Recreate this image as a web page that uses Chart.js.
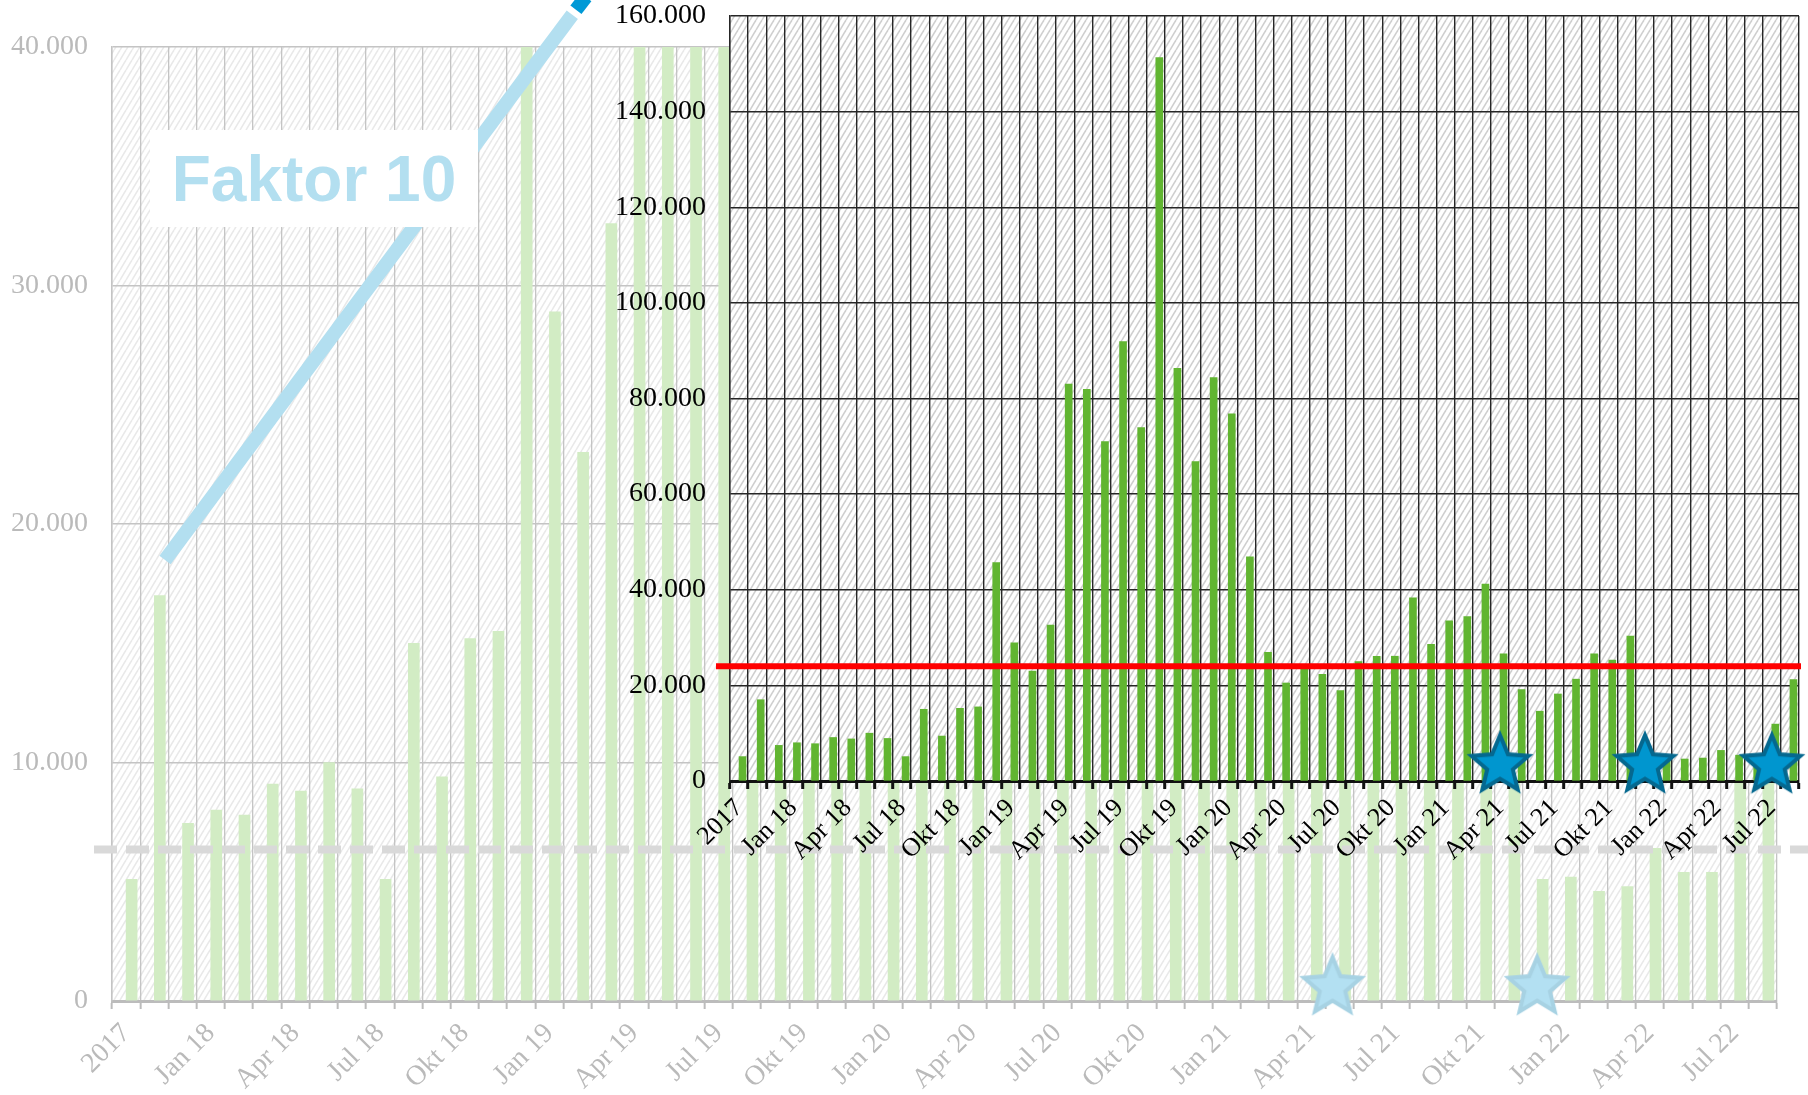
<!DOCTYPE html>
<html>
<head>
<meta charset="utf-8">
<script src="https://cdn.jsdelivr.net/npm/chart.js@4.4.0/dist/chart.umd.min.js"></script>
<style>
  html, body { margin: 0; padding: 0; background: #fff; }
  #wrap { position: relative; width: 1808px; height: 1095px; overflow: hidden; }
  .layer { position: absolute; left: 0; top: 0; width: 1808px; height: 1095px; }
  #faktor {
    position: absolute; left: 150px; top: 130px; width: 328px; height: 97px;
    background: #fff; color: #b3dff0;
    font: bold 64px "Liberation Sans", Arial, sans-serif;
    display: flex; align-items: center; justify-content: center;
  }
</style>
</head>
<body>
<div id="wrap">
  <div class="layer"><canvas id="bg"></canvas></div>
  <div id="faktor">Faktor 10</div>
  <div class="layer"><canvas id="inset"></canvas></div>
</div>
<script>
// months, Okt 2017 .. Aug 2022 (first one labelled "2017")
const months = [
  "2017", "Nov 17", "Dez 17",
  "Jan 18", "Feb 18", "Mär 18", "Apr 18", "Mai 18", "Jun 18", "Jul 18", "Aug 18", "Sep 18", "Okt 18", "Nov 18", "Dez 18",
  "Jan 19", "Feb 19", "Mär 19", "Apr 19", "Mai 19", "Jun 19", "Jul 19", "Aug 19", "Sep 19", "Okt 19", "Nov 19", "Dez 19",
  "Jan 20", "Feb 20", "Mär 20", "Apr 20", "Mai 20", "Jun 20", "Jul 20", "Aug 20", "Sep 20", "Okt 20", "Nov 20", "Dez 20",
  "Jan 21", "Feb 21", "Mär 21", "Apr 21", "Mai 21", "Jun 21", "Jul 21", "Aug 21", "Sep 21", "Okt 21", "Nov 21", "Dez 21",
  "Jan 22", "Feb 22", "Mär 22", "Apr 22", "Mai 22", "Jun 22", "Jul 22", "Aug 22"
];

// monthly values (same series in both charts)
const monthlyValues = [
  5100, 17000, 7450, 8000, 7800, 9100, 8800, 10000, 8900, 5100,
  15000, 9400, 15200, 15500, 45700, 28900, 23000, 32600, 83000, 81900,
  71000, 91900, 73900, 151300, 86300, 66800, 84400, 76800, 46900, 26900,
  20500, 23400, 22300, 18900, 25000, 26100, 26100, 38300, 28600, 33500,
  34400, 41200, 26600, 19100, 14600, 18200, 21300, 26600, 25300, 30300,
  5100, 5200, 4600, 4800, 6400, 5400, 5400, 11900, 21200
];

// star markers (x = month index)
const insetStarIdx = [42, 50, 57];
const insetStarVal = [3300, 3300, 3300];
const bgStarIdx = [42.75, 50];
const bgStarVal = [580, 580];

// reference levels
const redLevel = 24000;
const dashLevel = 6350;

// "Faktor 10" arrow, in background chart units
const faktorIdx = [1.38, 15.81];
const faktorVal = [18490, 41350];
const faktorTipIdx = [15.94, 16.29];
const faktorTipVal = [41560, 42100];

const serif = "'Liberation Serif', 'Times New Roman', serif";
const fmt = v => Number(v).toLocaleString('de-DE');

// --- helpers ---
const makeHatch = (bg, fg, w, h, lw) => {
  const c = document.createElement('canvas');
  c.width = w; c.height = h;
  const x = c.getContext('2d');
  x.fillStyle = bg; x.fillRect(0, 0, w, h);
  x.strokeStyle = fg; x.lineWidth = lw;
  for (let k = -1; k <= 1; k++) {
    x.beginPath(); x.moveTo(k * w, h); x.lineTo((k + 1) * w, 0); x.stroke();
  }
  return c;
};

const makeStar = (fill, stroke) => {
  const c = document.createElement('canvas');
  c.width = 72; c.height = 72;
  const x = c.getContext('2d');
  const R = 30, r = 13.5, cx = 36, cy = 36;
  x.beginPath();
  for (let i = 0; i < 10; i++) {
    const rad = i % 2 ? r : R;
    const a = -Math.PI / 2 + i * Math.PI / 5;
    x.lineTo(cx + rad * Math.cos(a), cy + rad * Math.sin(a));
  }
  x.closePath();
  x.fillStyle = fill; x.fill();
  x.lineJoin = 'miter'; x.lineWidth = 4; x.strokeStyle = stroke; x.stroke();
  return c;
};

const areaFill = tile => ({
  id: 'areaFill',
  beforeDraw(chart) {
    const { ctx, chartArea: a } = chart;
    ctx.save();
    ctx.fillStyle = ctx.createPattern(tile, 'repeat');
    ctx.fillRect(a.left, a.top, a.right - a.left, a.bottom - a.top);
    ctx.restore();
  }
});

const levelLine = (value, color, width, dash, extendLeft, toEdge) => ({
  id: 'levelLine',
  afterDatasetsDraw(chart) {
    const { ctx, chartArea: a, scales } = chart;
    const y = scales.y.getPixelForValue(value);
    ctx.save();
    ctx.strokeStyle = color; ctx.lineWidth = width; ctx.setLineDash(dash);
    ctx.beginPath();
    ctx.moveTo(a.left - extendLeft, y);
    ctx.lineTo(toEdge ? chart.width : a.right + 2, y);
    ctx.stroke();
    ctx.restore();
  }
});

const toPoints = (xs, ys) => xs.map((x, i) => ({ x, y: ys[i] }));

// hidden linear axis sharing the category slots (for marks between months)
const slotAxis = { type: 'linear', display: false, offset: false, min: -0.5, max: 58.5, grid: { offset: false } };

// --- background chart (0 - 40.000) ---
new Chart(document.getElementById('bg'), {
  type: 'bar',
  data: {
    labels: months,
    datasets: [
      {
        type: 'scatter', xAxisID: 'xs', data: toPoints(bgStarIdx, bgStarVal),
        pointStyle: makeStar('#b3e0f2', '#a7d2e3'), pointRadius: 3, clip: false, order: 0
      },
      {
        type: 'line', xAxisID: 'xs', data: toPoints(faktorTipIdx, faktorTipVal),
        borderColor: '#0099d6', borderWidth: 14, pointRadius: 0, borderCapStyle: 'butt', clip: false, order: 1
      },
      {
        type: 'line', xAxisID: 'xs', data: toPoints(faktorIdx, faktorVal),
        borderColor: '#b3dff0', borderWidth: 14, pointRadius: 0, borderCapStyle: 'butt', clip: false, order: 1
      },
      {
        data: monthlyValues, backgroundColor: '#d2ecc4', barThickness: 11, order: 2
      }
    ]
  },
  options: {
    responsive: true, maintainAspectRatio: false, animation: false,
    layout: { padding: { left: 0, top: 47, right: 31, bottom: 0 } },
    plugins: { legend: { display: false }, tooltip: { enabled: false } },
    scales: {
      x: {
        grid: { color: '#c4c4c4', lineWidth: 1.3, tickLength: 8, tickColor: '#bcbcbc', tickWidth: 2 },
        border: { color: '#bcbcbc', width: 3 },
        ticks: {
          autoSkip: false, minRotation: 45, maxRotation: 45, padding: 8,
          color: '#bababa', font: { family: serif, size: 28 },
          callback: (v, i) => (i % 3 === 0 ? months[i] : '')
        },
        afterFit: s => { s.height = 94; s.paddingLeft = 0; s.paddingRight = 0; }
      },
      xs: slotAxis,
      y: {
        min: 0, max: 40000,
        grid: { color: '#c4c4c4', lineWidth: 1.5, drawTicks: false },
        border: { color: '#c4c4c4', width: 1.5 },
        ticks: {
          stepSize: 10000, padding: 24, color: '#bababa',
          font: { family: serif, size: 28 }, callback: v => fmt(v)
        },
        afterFit: s => { s.width = 112; s.paddingTop = 0; s.paddingBottom = 0; }
      }
    }
  },
  plugins: [
    areaFill(makeHatch('#ffffff', '#e9e9e9', 6, 10, 1.6)),
    levelLine(dashLevel, '#d9d9d9', 8, [23, 9], 18, true)
  ]
});

// --- inset chart (0 - 160.000) ---
new Chart(document.getElementById('inset'), {
  type: 'bar',
  data: {
    labels: months,
    datasets: [
      {
        type: 'scatter', xAxisID: 'xs', data: toPoints(insetStarIdx, insetStarVal),
        pointStyle: makeStar('#0096cf', '#05688f'), pointRadius: 3, clip: false, order: 0
      },
      {
        data: monthlyValues, backgroundColor: '#61b531', barThickness: 7, order: 1
      }
    ]
  },
  options: {
    responsive: true, maintainAspectRatio: false, animation: false,
    layout: { padding: { left: 610, top: 16, right: 9, bottom: 214 } },
    plugins: { legend: { display: false }, tooltip: { enabled: false } },
    scales: {
      x: {
        grid: { color: '#262626', lineWidth: 1.4, tickLength: 8, tickColor: '#111', tickWidth: 3 },
        border: { color: '#111', width: 3 },
        ticks: {
          autoSkip: false, minRotation: 45, maxRotation: 45, padding: 4,
          color: '#000', font: { family: serif, size: 26 },
          callback: (v, i) => (i % 3 === 0 ? months[i] : '')
        },
        afterFit: s => { s.height = 100; s.paddingLeft = 0; s.paddingRight = 0; }
      },
      xs: slotAxis,
      y: {
        min: 0, max: 160000,
        grid: { color: '#262626', lineWidth: 1.4, drawTicks: false },
        border: { color: '#262626', width: 1.4 },
        ticks: {
          stepSize: 20000, padding: 24, color: '#000',
          font: { family: serif, size: 28 }, callback: v => fmt(v)
        },
        afterFit: s => { s.width = 120; s.paddingTop = 0; s.paddingBottom = 0; }
      }
    }
  },
  plugins: [
    areaFill(makeHatch('#ffffff', '#cfcfcf', 6, 10, 1.6)),
    levelLine(redLevel, '#ff0000', 6, [], 14, false)
  ]
});
</script>
</body>
</html>
